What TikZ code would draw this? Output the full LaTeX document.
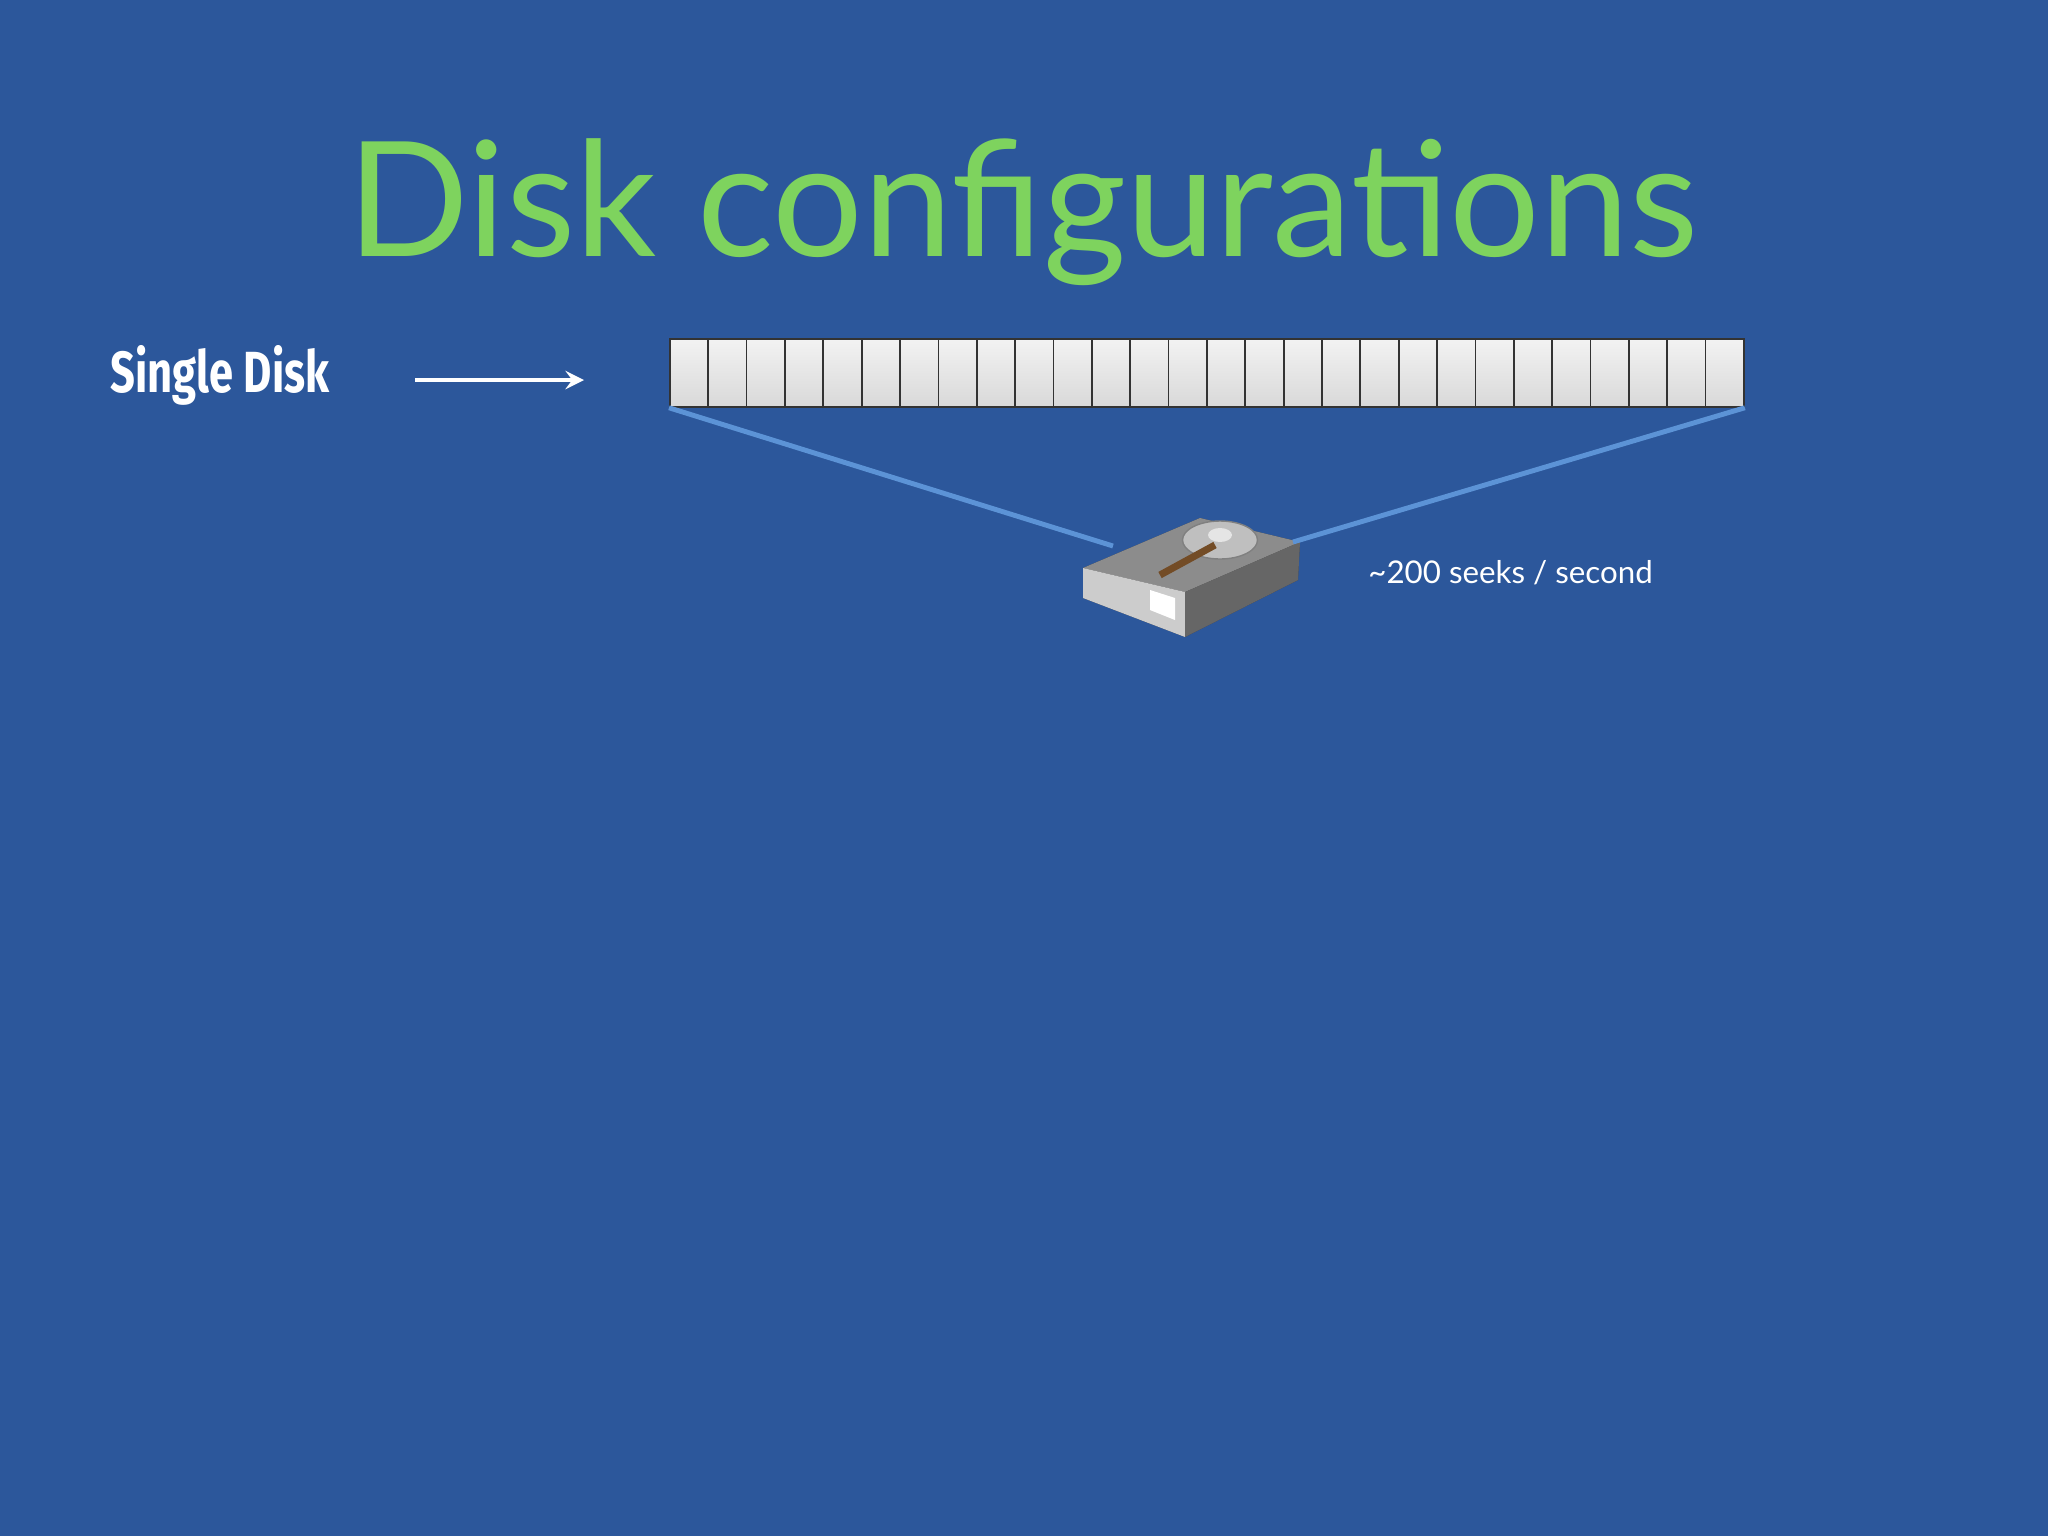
\documentclass[tikz,border=0pt]{standalone}
\usepackage{fontspec}
\usetikzlibrary{shapes.geometric}
\setmainfont{Lato}
\newfontfamily\fira{Fira Sans}
\definecolor{bg}{HTML}{2C579B}
\definecolor{ttl}{HTML}{7ED35E}
\definecolor{lnk}{HTML}{5C93D6}
\begin{document}
\begin{tikzpicture}[x=0.01cm,y=-0.01cm,
  cell/.style={draw=black!80,line width=0.5pt,top color=white!95!black,bottom color=black!15,minimum width=38.36*0.01cm,minimum height=68*0.01cm,inner sep=0pt,anchor=north west},
  link/.style={draw=lnk,line width=1.4pt}]
\useasboundingbox[fill=bg] (0,0) rectangle (2048,1536);
\node (title) [text=ttl,font=\fontsize{45.5}{50}\selectfont] at (1023,212) {Disk configurations};
\node (lbl) [text=white,font=\fira\bfseries\fontsize{16.5}{18}\selectfont,anchor=west] at (98,375) {\scalebox{0.75}[1]{Single Disk}};
\coordinate (a0) at (415,380);
\coordinate (a1) at (584,380);
\draw[white,line width=1.3pt,-stealth] (a0) -- (a1);
\foreach \i in {0,...,27}{
  \node[cell] (c\i) at (669+\i*38.36,338) {};
}
% hard drive
\begin{scope}
\fill[black!75] (1083,568) -- (1200,518) -- (1300,542) -- (1298,580) -- (1185,637) -- (1083,598) -- cycle;
\fill[black!45] (1083,568) -- (1200,518) -- (1300,542) -- (1185,592) -- cycle;
\fill[black!20] (1083,568) -- (1185,592) -- (1185,637) -- (1083,598) -- cycle;
\fill[black!60] (1185,592) -- (1300,542) -- (1298,580) -- (1185,637) -- cycle;
\node (drive) [ellipse,minimum width=75*0.01cm,minimum height=38*0.01cm,inner sep=0pt,fill=black!25,draw=black!50] at (1220,540) {};
\fill[black!10] (1220,535) ellipse [x radius=12,y radius=7];
\draw[brown!60!black,line width=2pt] (1160,575) -- (1215,545);
\fill[white] (1150,590) -- (1175,598) -- (1175,620) -- (1150,610) -- cycle;
\end{scope}
\coordinate (dl) at (1113,546);
\coordinate (dr) at (1293,542);
\draw[link] (c0.south west) -- (dl);
\draw[link] (c27.south east) -- (dr);
\node (seeks) [text=white,font=\fontsize{8.9}{11}\selectfont,anchor=west] at (1356,573) {\textasciitilde200 seeks / second};
\end{tikzpicture}
\end{document}
